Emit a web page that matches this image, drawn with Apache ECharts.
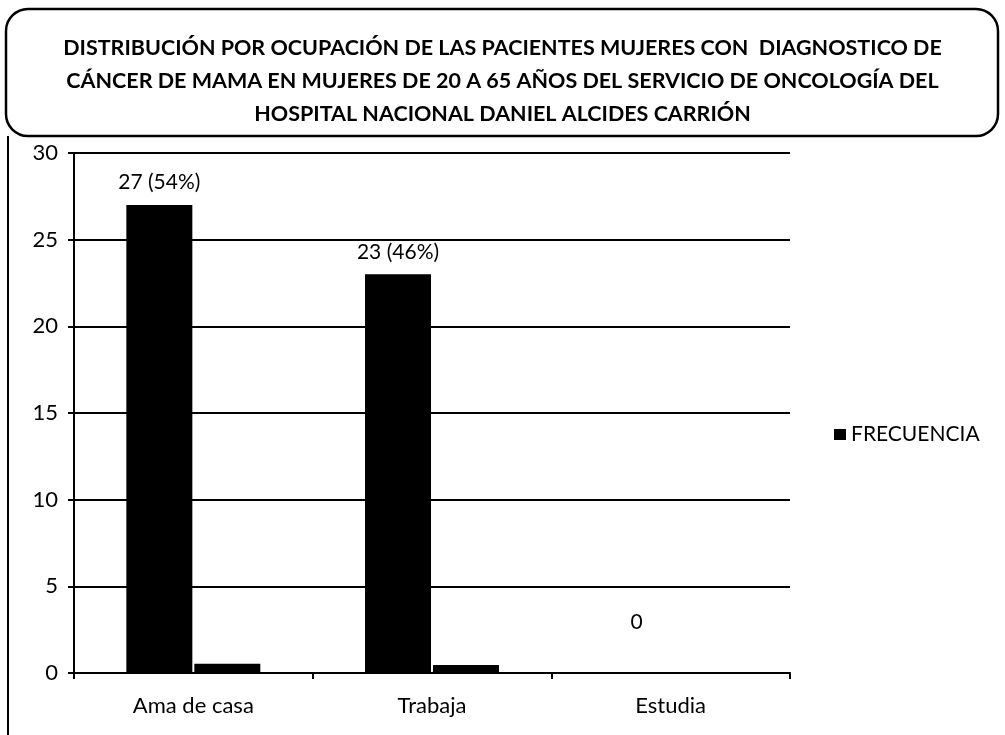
<!DOCTYPE html>
<html>
<head>
<meta charset="utf-8">
<script src="https://cdn.jsdelivr.net/npm/echarts@6/dist/echarts.min.js"></script>
<style>
  html, body { margin: 0; padding: 0; background: #fff; }
  #chart { width: 1005px; height: 735px; }
</style>
</head>
<body>
<div id="chart"></div>
<script>
// data
var categories = ['Ama de casa', 'Trabaja', 'Estudia']
var frecuencia = [27, 23, 0]
var porcentaje = [0.54, 0.46, 0]
var barLabels = ['27 (54%)', '23 (46%)', '0']
var yTicks = [0, 5, 10, 15, 20, 25, 30]

var titleLines = [
  'DISTRIBUCIÓN POR OCUPACIÓN DE LAS PACIENTES MUJERES CON  DIAGNOSTICO DE',
  'CÁNCER DE MAMA EN MUJERES DE 20 A 65 AÑOS DEL SERVICIO DE ONCOLOGÍA DEL',
  'HOSPITAL NACIONAL DANIEL ALCIDES CARRIÓN'
]

var font = 'Lato, "Open Sans", sans-serif'

var chart = echarts.init(document.getElementById('chart'))

chart.setOption({
  animation: false,
  backgroundColor: '#fff',
  title: {
    text: titleLines.join('\n'),
    left: 'center',
    top: 27,
    textStyle: {
      fontFamily: font,
      fontWeight: 'bold',
      fontSize: 21.5,
      lineHeight: 33,
      color: '#000'
    }
  },
  graphic: [
    {
      type: 'rect',
      shape: { x: 6, y: 9, width: 992, height: 127, r: 22 },
      style: { fill: 'none', stroke: '#000', lineWidth: 2.5 },
      z: 10
    },
    {
      type: 'line',
      shape: { x1: 8, y1: 136, x2: 8, y2: 735 },
      style: { stroke: '#000', lineWidth: 2 }
    }
  ],
  legend: {
    data: ['FRECUENCIA'],
    orient: 'vertical',
    left: 829,
    top: 419,
    icon: 'rect',
    itemWidth: 12,
    itemHeight: 11,
    itemGap: 6,
    textStyle: { fontFamily: font, fontSize: 21, color: '#000' }
  },
  grid: {
    left: 74,
    right: 215,
    top: 153,
    bottom: 62
  },
  xAxis: {
    type: 'category',
    data: categories,
    axisLine: { lineStyle: { color: '#000', width: 2 } },
    axisTick: { show: true, length: 6, lineStyle: { color: '#000', width: 2 } },
    axisLabel: { fontFamily: font, fontSize: 22, color: '#000', margin: 22 }
  },
  yAxis: {
    type: 'value',
    min: 0,
    max: 30,
    interval: 5,
    axisLine: { show: true, lineStyle: { color: '#000', width: 2 } },
    axisTick: { show: true, length: 6, lineStyle: { color: '#000', width: 2 } },
    axisLabel: {
      fontFamily: font, fontSize: 22, color: '#000', margin: 16,
      formatter: function (v) { return yTicks.indexOf(v) >= 0 ? String(v) : '' }
    },
    splitLine: { lineStyle: { color: '#000', width: 2 } }
  },
  series: [
    {
      name: 'FRECUENCIA',
      type: 'bar',
      barWidth: 66,
      barGap: '3%',
      itemStyle: { color: '#000' },
      data: frecuencia.map(function (v, i) {
        return {
          value: v,
          label: {
            show: true,
            position: 'top',
            distance: i === 2 ? 40 : 12,
            formatter: barLabels[i],
            fontFamily: font,
            fontSize: 21,
            color: '#000'
          }
        }
      })
    },
    {
      name: 'PORCENTAJE',
      type: 'bar',
      barWidth: 66,
      itemStyle: { color: '#000' },
      data: porcentaje
    }
  ]
})
</script>
</body>
</html>
